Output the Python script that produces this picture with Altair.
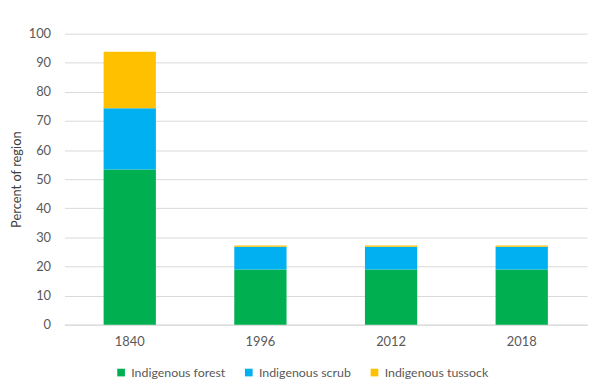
import altair as alt
import pandas as pd

years = ["1840", "1996", "2012", "2018"]
series = ["Indigenous forest", "Indigenous scrub", "Indigenous tussock"]
forest = [53.3, 19.0, 19.0, 19.0]
scrub = [21.1, 7.8, 7.8, 7.8]
tussock = [19.4, 0.4, 0.4, 0.4]
colors = ["#00B050", "#00B0F0", "#FFC000"]

rows = []
for i, y in enumerate(years):
    for j, (s, vals) in enumerate(zip(series, [forest, scrub, tussock])):
        rows.append({"year": y, "series": s, "value": vals[i], "ord": j})
df = pd.DataFrame(rows)

font = "Lato"
gray = "#595959"

chart = alt.Chart(df).mark_bar().encode(
    x=alt.X("year:N", sort=years, title=None,
            scale=alt.Scale(paddingInner=0.6, paddingOuter=0.3),
            axis=alt.Axis(labelAngle=0, ticks=False, domainColor="#D9D9D9",
                          labelColor=gray, labelFont=font, labelFontSize=13,
                          labelPadding=11)),
    y=alt.Y("value:Q", title="Percent of region",
            scale=alt.Scale(domain=[0, 100]),
            axis=alt.Axis(values=list(range(0, 101, 10)), domain=False, ticks=False,
                          gridColor="#D9D9D9", labelColor=gray, labelFont=font,
                          labelFontSize=13, labelPadding=14, titleColor="#404040",
                          titleFont=font, titleFontSize=13, titleFontWeight="normal",
                          titlePadding=5)),
    color=alt.Color("series:N", sort=series,
                    scale=alt.Scale(domain=series, range=colors),
                    legend=alt.Legend(title=None, orient="none", direction="horizontal",
                                      legendX=51, legendY=336, symbolType="square",
                                      symbolSize=60, symbolStrokeWidth=0,
                                      labelColor=gray, labelFont=font, labelFontSize=12.5,
                                      columnPadding=17, labelOffset=4)),
    order=alt.Order("ord:Q", sort="ascending"),
).properties(
    width=528, height=294,
    autosize=alt.AutoSizeParams(type="none"),
    padding={"left": 57, "top": 24, "right": 5, "bottom": 57},
).configure_view(stroke=None)

chart.save("out.html", embed_options={"renderer": "svg", "actions": False})
